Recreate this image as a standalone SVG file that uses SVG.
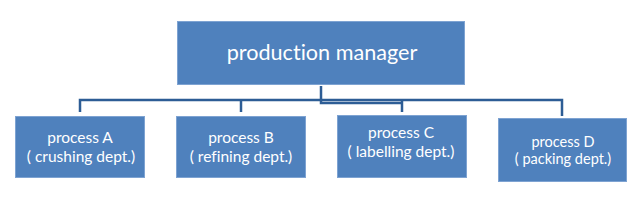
<svg xmlns="http://www.w3.org/2000/svg" width="640" height="218" viewBox="0 0 640 218">
<style>
.box{fill:#4f81bd;stroke:#7ea3d2;stroke-width:1}
.t{fill:#ffffff;font-family:Lato,"Open Sans",sans-serif;text-anchor:middle;font-variant-ligatures:none}
.big{font-size:21.6px}
.sm{font-size:15.5px}
.xs{font-size:14.5px}
.c{fill:none;stroke:#2d5d95;stroke-width:2.5}
</style>
<rect width="640" height="218" fill="#ffffff"/>
<g id="connectors">
<path class="c" d="M80,112 V100 H562 V116"/>
<path class="c" d="M241,100 V112"/>
<path class="c" d="M402,100 V112"/>
<path class="c" d="M321,86 V103 H402"/>
</g>
<g id="manager">
<rect class="box" x="177.5" y="21.5" width="287" height="63"/>
<text class="t big" x="322" y="60">production manager</text>
</g>
<g id="processA">
<rect class="box" x="15.5" y="116.5" width="129" height="61"/>
<text class="t sm" x="80" y="143">process A</text>
<text class="t sm" x="81" y="162">( crushing dept.)</text>
</g>
<g id="processB">
<rect class="box" x="176.5" y="116.5" width="129" height="61"/>
<text class="t sm" x="241" y="143">process B</text>
<text class="t sm" x="241" y="162">( refining dept.)</text>
</g>
<g id="processC">
<rect class="box" x="337.5" y="115.5" width="129" height="62"/>
<text class="t sm" x="401" y="138">process C</text>
<text class="t sm" x="401" y="157">( labelling dept.)</text>
</g>
<g id="processD">
<rect class="box" x="498.5" y="118.5" width="128" height="63"/>
<text class="t xs" x="563" y="147">process D</text>
<text class="t xs" x="563" y="164">( packing dept.)</text>
</g>
</svg>
